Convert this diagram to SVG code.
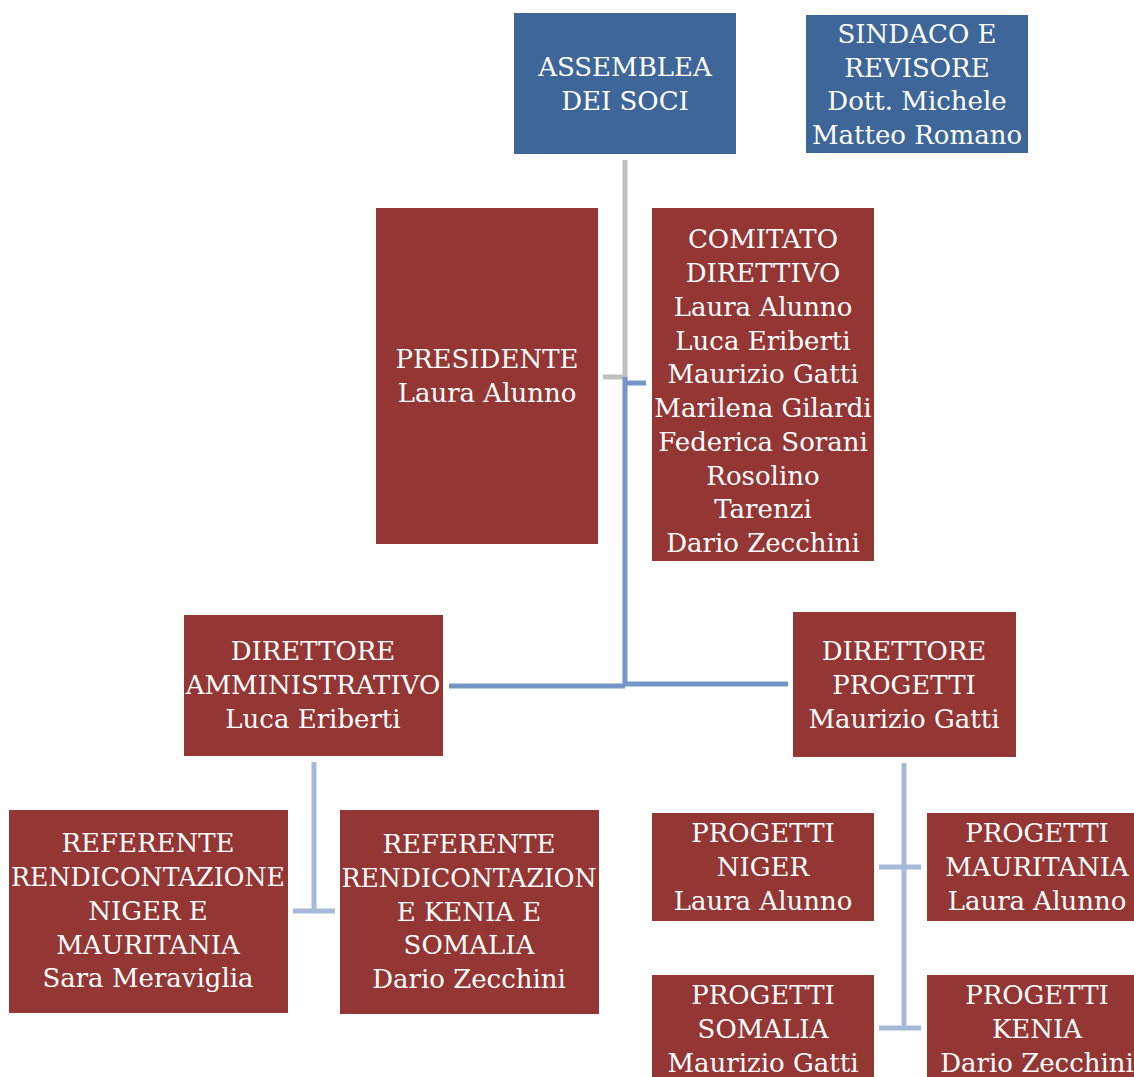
<svg xmlns="http://www.w3.org/2000/svg" width="1134" height="1077" viewBox="0 0 1134 1077">
<style>
.blue{fill:#3E6698}
.red{fill:#943634}
.t{font-family:"DejaVu Serif","Liberation Serif",serif;font-size:26px;fill:#fff;text-anchor:middle}
.c{fill:none;stroke-width:5}
.g{stroke:#BFBFBF}
.b{stroke:#7496C7}
.l{stroke:#A5B9D9}
</style>
<rect width="1134" height="1077" fill="#fff"/>
<g id="connectors">
<path class="c g" d="M625 160V377H603"/>
<path class="c b" d="M625 377V686M625 383H646M449 686H625M625 684H788"/>
<path class="c l" d="M314 762V912M293 911H335"/>
<path class="c l" d="M904 763V1028M879 867H921M879 1028H921"/>
</g>
<g id="assemblea">
<rect class="blue" x="514" y="13" width="222" height="141"/>
<text class="t" x="625"><tspan x="625" y="76">ASSEMBLEA</tspan><tspan x="625" y="110">DEI SOCI</tspan></text>
</g>
<g id="sindaco">
<rect class="blue" x="806" y="15" width="222" height="138"/>
<text class="t"><tspan x="917" y="43">SINDACO E</tspan><tspan x="917" y="77">REVISORE</tspan><tspan x="917" y="110">Dott. Michele</tspan><tspan x="917" y="144">Matteo Romano</tspan></text>
</g>
<g id="presidente">
<rect class="red" x="376" y="208" width="222" height="336"/>
<text class="t"><tspan x="487" y="368">PRESIDENTE</tspan><tspan x="487" y="402">Laura Alunno</tspan></text>
</g>
<g id="comitato">
<rect class="red" x="652" y="208" width="222" height="353"/>
<text class="t"><tspan x="763" y="248">COMITATO</tspan><tspan x="763" y="282">DIRETTIVO</tspan><tspan x="763" y="316">Laura Alunno</tspan><tspan x="763" y="350">Luca Eriberti</tspan><tspan x="763" y="383">Maurizio Gatti</tspan><tspan x="763" y="417">Marilena Gilardi</tspan><tspan x="763" y="451">Federica Sorani</tspan><tspan x="763" y="485">Rosolino</tspan><tspan x="763" y="518">Tarenzi</tspan><tspan x="763" y="552">Dario Zecchini</tspan></text>
</g>
<g id="dir-amm">
<rect class="red" x="184" y="615" width="259" height="141"/>
<text class="t"><tspan x="313" y="660">DIRETTORE</tspan><tspan x="313" y="694">AMMINISTRATIVO</tspan><tspan x="313" y="728">Luca Eriberti</tspan></text>
</g>
<g id="dir-prog">
<rect class="red" x="793" y="612" width="223" height="145"/>
<text class="t"><tspan x="904" y="660">DIRETTORE</tspan><tspan x="904" y="694">PROGETTI</tspan><tspan x="904" y="728">Maurizio Gatti</tspan></text>
</g>
<g id="ref-niger">
<rect class="red" x="9" y="810" width="279" height="203"/>
<text class="t"><tspan x="148" y="852">REFERENTE</tspan></text>
<text class="t" x="148" y="886" textLength="274" lengthAdjust="spacingAndGlyphs">RENDICONTAZIONE</text>
<text class="t"><tspan x="148" y="920">NIGER E</tspan><tspan x="148" y="954">MAURITANIA</tspan><tspan x="148" y="987">Sara Meraviglia</tspan></text>
</g>
<g id="ref-kenia">
<rect class="red" x="340" y="810" width="259" height="204"/>
<text class="t"><tspan x="469" y="853">REFERENTE</tspan></text>
<text class="t" x="469" y="887" textLength="255" lengthAdjust="spacingAndGlyphs">RENDICONTAZION</text>
<text class="t"><tspan x="469" y="921">E KENIA E</tspan><tspan x="469" y="954">SOMALIA</tspan><tspan x="469" y="988">Dario Zecchini</tspan></text>
</g>
<g id="prog-niger">
<rect class="red" x="652" y="813" width="222" height="108"/>
<text class="t"><tspan x="763" y="842">PROGETTI</tspan><tspan x="763" y="876">NIGER</tspan><tspan x="763" y="910">Laura Alunno</tspan></text>
</g>
<g id="prog-mauritania">
<rect class="red" x="927" y="813" width="207" height="108"/>
<text class="t"><tspan x="1037" y="842">PROGETTI</tspan><tspan x="1037" y="876">MAURITANIA</tspan><tspan x="1037" y="910">Laura Alunno</tspan></text>
</g>
<g id="prog-somalia">
<rect class="red" x="652" y="975" width="222" height="102"/>
<text class="t"><tspan x="763" y="1004">PROGETTI</tspan><tspan x="763" y="1038">SOMALIA</tspan><tspan x="763" y="1072">Maurizio Gatti</tspan></text>
</g>
<g id="prog-kenia">
<rect class="red" x="927" y="975" width="207" height="102"/>
<text class="t"><tspan x="1037" y="1004">PROGETTI</tspan><tspan x="1037" y="1038">KENIA</tspan><tspan x="1037" y="1072">Dario Zecchini</tspan></text>
</g>
</svg>
